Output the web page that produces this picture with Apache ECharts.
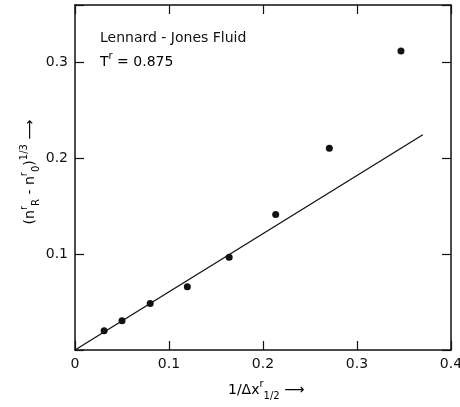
<!DOCTYPE html>
<html><head><meta charset="utf-8">
<script src="https://cdn.jsdelivr.net/npm/echarts@6/dist/echarts.min.js"></script>
<style>html,body{margin:0;padding:0;background:#fff}#c{width:460px;height:407px}</style>
</head><body><div id="c"></div>
<script>
const pointsX = [0.031, 0.050, 0.080, 0.1195, 0.164, 0.2135, 0.2706, 0.3468];
const pointsY = [0.020, 0.0304, 0.0486, 0.0661, 0.0969, 0.1413, 0.2106, 0.312];
const fitX = [0, 0.370];
const fitY = [0, 0.2246];
const xTicks = [0, 0.1, 0.2, 0.3, 0.4];
const yTicks = [0.1, 0.2, 0.3];

const FONT = 'DejaVu Sans';
const INK = '#111';
const chart = echarts.init(document.getElementById('c'), null, {renderer: 'canvas'});
const lbl = v => {
  const s = Math.round(v * 10) / 10;
  return s === 0 ? '0' : String(s);
};
const rich = {
  b: {fontSize: 14, fontFamily: FONT, color: INK, lineHeight: 22, verticalAlign: 'middle'},
  sup: {fontSize: 10, fontFamily: FONT, color: INK, lineHeight: 10, verticalAlign: 'top'},
  sub: {fontSize: 10, fontFamily: FONT, color: INK, lineHeight: 10, verticalAlign: 'bottom'}
};
const frameLine = {show: true, onZero: false, lineStyle: {color: INK, width: 1.5}};
const frameTick = {show: true, inside: true, length: 9, lineStyle: {color: INK, width: 1.2}};
chart.setOption({
  animation: false,
  grid: {left: 75, right: 9, top: 5, bottom: 57, containLabel: false, outerBoundsMode: 'none'},
  xAxis: [{
    type: 'value', min: 0, max: 0.4, interval: 0.1, position: 'bottom',
    axisLine: frameLine, axisTick: frameTick,
    axisLabel: {margin: 7, fontSize: 14, fontFamily: FONT, color: INK,
      formatter: v => xTicks.some(t => Math.abs(t - v) < 1e-9) ? lbl(v) : ''},
    splitLine: {show: false}
  }, {
    type: 'value', min: 0, max: 0.4, interval: 0.1, position: 'top',
    axisLine: frameLine, axisTick: frameTick,
    axisLabel: {show: false}, splitLine: {show: false}
  }],
  yAxis: [{
    type: 'value', min: 0, max: 0.36, interval: 0.1, position: 'left',
    axisLine: frameLine, axisTick: frameTick,
    axisLabel: {margin: 7, fontSize: 14, fontFamily: FONT, color: INK,
      formatter: v => yTicks.some(t => Math.abs(t - v) < 1e-9) ? lbl(v) : ''},
    splitLine: {show: false}
  }, {
    type: 'value', min: 0, max: 0.36, interval: 0.1, position: 'right',
    axisLine: frameLine, axisTick: frameTick,
    axisLabel: {show: false}, splitLine: {show: false}
  }],
  series: [{
    type: 'line', data: fitX.map((x, i) => [x, fitY[i]]),
    showSymbol: false, symbol: 'none',
    lineStyle: {color: INK, width: 1.3}, silent: true
  }, {
    type: 'scatter', data: pointsX.map((x, i) => [x, pointsY[i]]),
    symbol: 'circle', symbolSize: 7,
    itemStyle: {color: INK, opacity: 1}
  }],
  graphic: [{
    type: 'text', x: 100, y: 38,
    style: {text: 'Lennard - Jones Fluid', font: '14px "' + FONT + '"', fill: INK, align: 'left', verticalAlign: 'middle'}
  }, {
    type: 'text', x: 100, y: 62,
    style: {text: '{b|T}{sup|r}{b| = 0.875}', rich: rich, align: 'left', verticalAlign: 'middle'}
  }, {
    type: 'text', x: 228, y: 390,
    style: {text: '{b|1/Δx}{sup|r}{sub|1/2}{b| ⟶}', rich: rich, align: 'left', verticalAlign: 'middle'}
  }, {
    type: 'text', x: 30, y: 172, rotation: Math.PI / 2,
    style: {text: '{b|(n}{sup|r}{sub|R}{b| - n}{sup|r}{sub|0}{b|)}{sup|1/3}{b| ⟶}', rich: rich, align: 'center', verticalAlign: 'middle'}
  }]
});
</script></body></html>
